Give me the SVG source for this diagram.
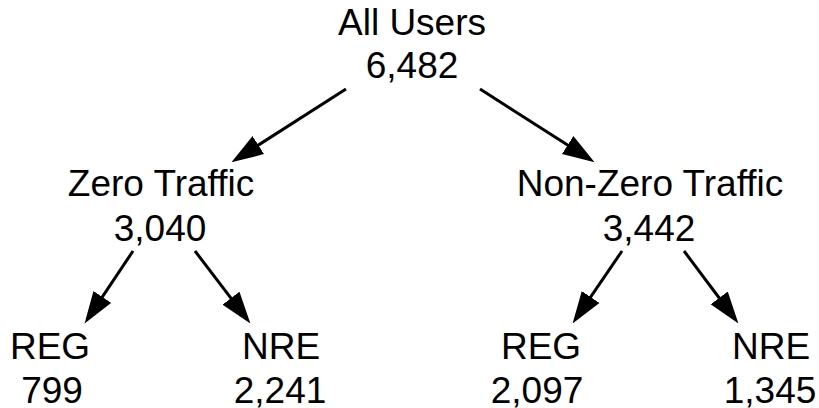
<svg xmlns="http://www.w3.org/2000/svg" width="819" height="408" viewBox="0 0 819 408">
<style>
text{font-family:"Liberation Sans",Arial,Helvetica,sans-serif;font-size:37px;fill:#000;text-anchor:middle}
.c line{stroke:#000;stroke-width:3;marker-end:url(#ah)}
</style>
<defs>
<marker id="ah" markerUnits="userSpaceOnUse" markerWidth="32" markerHeight="22" refX="20" refY="10" orient="auto" viewBox="0 0 30 20">
<path d="M0,0 L30,10 L0,20 z" fill="#000"/>
</marker>
</defs>
<rect width="819" height="408" fill="#fff"/>
<g id="all"><text x="412" y="35">All Users</text><text x="412" y="78">6,482</text></g>
<g id="zero"><text x="161" y="196">Zero Traffic</text><text x="160" y="241">3,040</text></g>
<g id="nonzero"><text x="650" y="196">Non-Zero Traffic</text><text x="649" y="241">3,442</text></g>
<g id="reg1"><text x="50" y="359">REG</text><text x="52" y="403">799</text></g>
<g id="nre1"><text x="281" y="359">NRE</text><text x="280" y="403">2,241</text></g>
<g id="reg2"><text x="541" y="359">REG</text><text x="537" y="403">2,097</text></g>
<g id="nre2"><text x="771" y="359">NRE</text><text x="770" y="403">1,345</text></g>
<g id="connectors" class="c">
<line x1="346" y1="89" x2="240.4" y2="156.6"/>
<line x1="480" y1="89" x2="585.6" y2="156.6"/>
<line x1="133" y1="251" x2="90.5" y2="314.7"/>
<line x1="195" y1="251" x2="243.9" y2="315.1"/>
<line x1="622" y1="251" x2="578.6" y2="314.7"/>
<line x1="684" y1="251" x2="732" y2="315"/>
</g>
</svg>
